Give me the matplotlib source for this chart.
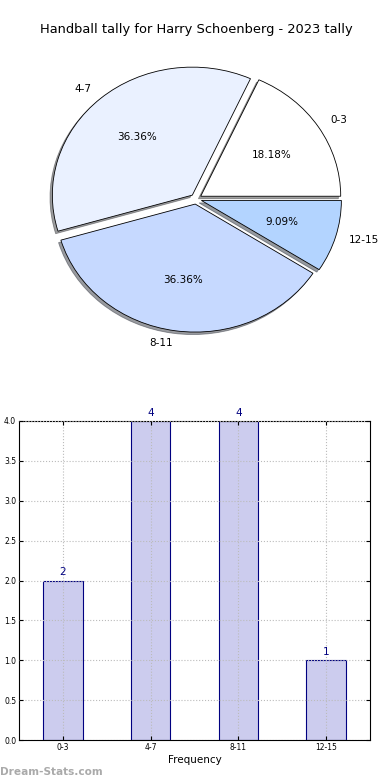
import numpy as np
from matplotlib import pyplot as plt
from matplotlib.ticker import MultipleLocator, FormatStrFormatter

categories = ['0-3', '4-7', '8-11', '12-15']
counts = [2, 4, 4, 1]
pie_colors = ['#ffffff', '#eaf1ff', '#c6d9ff', '#b3d4ff']
title = 'Handball tally for Harry Schoenberg - 2023 tally'

fig = plt.figure(figsize=(3.9, 7.8), dpi=100)

# pie (not forced round, like the original)
ax1 = fig.add_axes([21/390, 1 - 359/780, 350/390, 320/780])
wedges, texts, autotexts = ax1.pie(counts, labels=categories, colors=pie_colors,
                                   explode=[0.04] * 4, autopct='%1.2f%%',
                                   shadow={'ox': -0.012, 'oy': -0.014, 'shade': 0.75},
                                   startangle=0, counterclock=True,
                                   wedgeprops={'edgecolor': 'black', 'linewidth': 0.6},
                                   textprops={'fontsize': 7.5})
ax1.set_aspect('auto')
ax1.set_xlim(-1.25, 1.25)
ax1.set_ylim(-1.25, 1.25)
ax1.set_title(title, fontsize=9.4, pad=4)

# bar chart
ax2 = fig.add_axes([19/390, 40/780, 351/390, 319/780])
x = np.arange(len(categories))
ax2.bar(x, counts, width=0.45, color='#ccccee', edgecolor='navy', linewidth=0.8, zorder=2)
for xi, c in zip(x, counts):
    ax2.text(xi, c + 0.04, str(c), ha='center', va='bottom', color='navy', fontsize=7.5)
ax2.set_xlim(-0.5, 3.5)
ax2.set_ylim(0, 4)
ax2.set_xticks(x)
ax2.set_xticklabels(categories)
ax2.yaxis.set_major_locator(MultipleLocator(0.5))
ax2.yaxis.set_major_formatter(FormatStrFormatter('%.1f'))
ax2.tick_params(labelsize=5.5, direction='in', top=True, right=True, length=3, pad=2)
ax2.grid(True, linestyle=':', color='#bbbbbb', linewidth=0.8, zorder=0)
ax2.set_axisbelow(False)
ax2.set_xlabel('Frequency', fontsize=7.5, labelpad=2)

fig.text(0.0, 0.006, 'Dream-Stats.com', fontsize=7.6, color='#aaaaaa', fontweight='bold')

plt.savefig('out.png', dpi=100)
